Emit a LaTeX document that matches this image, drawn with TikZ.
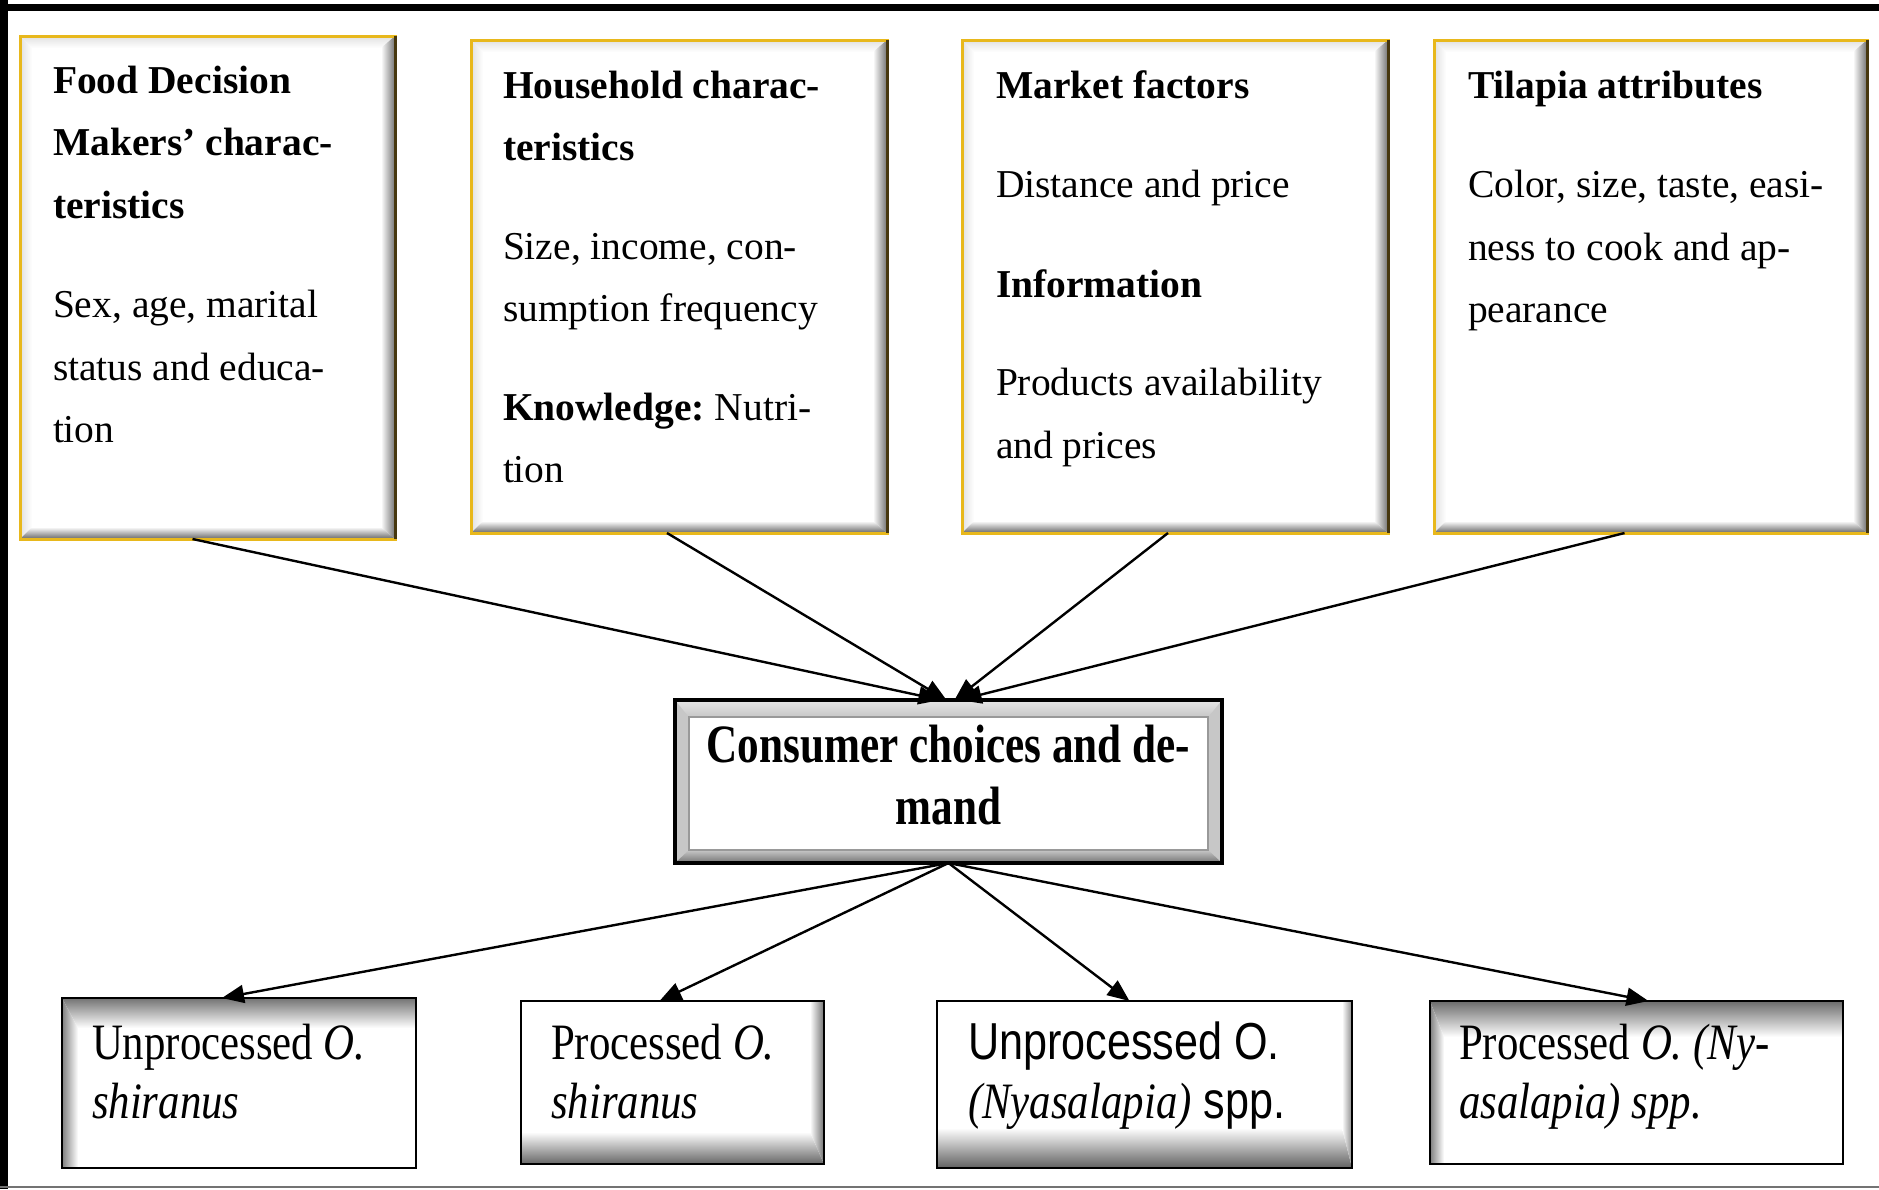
\documentclass[tikz,border=0pt]{standalone}
\usepackage{fontspec}
\setmainfont{Liberation Serif}
\newfontfamily\condserif[FakeStretch=0.84]{Liberation Serif}
\newfontfamily\condsans[FakeStretch=0.83]{Liberation Sans}
\newfontfamily\condbold[FakeStretch=0.80]{Liberation Serif}
\usetikzlibrary{arrows.meta,calc}
\definecolor{goldline}{RGB}{232,184,28}
\definecolor{darkedge}{RGB}{70,55,15}
% bevel helpers: #1 node, #2 depth, #3/#4 insets at ends, #5 colour at edge
\newcommand\bevTop[5]{\shade[top color=#5,bottom color=white] (#1.north west) -- (#1.north east) -- ($(#1.north east)+(-#4,#2)$) -- ($(#1.north west)+(#3,#2)$) -- cycle;}
\newcommand\bevBot[5]{\shade[top color=white,bottom color=#5] (#1.south west) -- (#1.south east) -- ($(#1.south east)+(-#4,-#2)$) -- ($(#1.south west)+(#3,-#2)$) -- cycle;}
\newcommand\bevLeft[5]{\shade[left color=#5,right color=white] (#1.north west) -- (#1.south west) -- ($(#1.south west)+(#2,-#4)$) -- ($(#1.north west)+(#2,#3)$) -- cycle;}
\newcommand\bevRight[5]{\shade[left color=white,right color=#5] (#1.north east) -- (#1.south east) -- ($(#1.south east)+(-#2,-#4)$) -- ($(#1.north east)+(-#2,#3)$) -- cycle;}
\newcommand\topdeco[1]{%
  \bevTop{#1}{12}{12}{14}{black!12}
  \bevLeft{#1}{12}{12}{12}{black!12}
  \bevRight{#1}{14}{12}{12}{black!55}
  \bevBot{#1}{12}{12}{14}{black!60}
  \draw[goldline,line width=3] (#1.north west) rectangle (#1.south east);
  \draw[darkedge,line width=3] (#1.north east) -- (#1.south east);}
\begin{document}
\begin{tikzpicture}[x=1pt,y=-1pt,
  box/.style={rectangle,inner sep=0,outer sep=0,fill=white},
  txt/.style={inner sep=0,outer sep=0,anchor=base west,align=left},
  topfont/.style={font=\fontsize{39.5}{62}\selectfont},
  botfont/.style={font=\fontsize{51}{59}\condserif},
  conn/.style={line width=2.4,-{Triangle[length=22,width=18]}}]
\useasboundingbox (0,0) rectangle (1879,1189);
% frame
\fill[black] (0,0) rectangle (8,1189);
\fill[black] (0,4) rectangle (1879,11);
\draw[black!55,line width=2] (0,1187) -- (1879,1187);

% top boxes
\node[box,minimum width=375,minimum height=503] (b1) at (207.5,287.5) {};
\node[box,minimum width=416,minimum height=493] (b2) at (679,286.5) {};
\node[box,minimum width=426,minimum height=493] (b3) at (1175,286.5) {};
\node[box,minimum width=433,minimum height=493] (b4) at (1650.5,286.5) {};
\topdeco{b1}\topdeco{b2}\topdeco{b3}\topdeco{b4}

\node[txt,topfont] (t1) at (53,93) {\vtop{\baselineskip=62.5pt
  \hbox{\bfseries Food Decision}\hbox{\bfseries Makers’ charac-}\hbox{\bfseries teristics}
  \vskip37pt
  \hbox{Sex, age, marital}\hbox{status and educa-}\hbox{tion}}};
\node[txt,topfont] (t2) at (503,98) {\vtop{\baselineskip=62.5pt
  \hbox{\bfseries Household charac-}\hbox{\bfseries teristics}
  \vskip36pt
  \hbox{Size, income, con-}\hbox{sumption frequency}
  \vskip36pt
  \hbox{\bfseries Knowledge:\mdseries\ Nutri-}\hbox{tion}}};
\node[txt,topfont] (t3) at (996,98) {\vtop{\baselineskip=62.5pt
  \hbox{\bfseries Market factors}
  \vskip37pt
  \hbox{Distance and price}
  \vskip37pt
  \hbox{\bfseries Information}
  \vskip36pt
  \hbox{Products availability}\hbox{and prices}}};
\node[txt,topfont] (t4) at (1468,98) {\vtop{\baselineskip=62.5pt
  \hbox{\bfseries Tilapia attributes}
  \vskip37pt
  \hbox{Color, size, taste, easi-}\hbox{ness to cook and ap-}\hbox{pearance}}};

% consumer box
\node[box,fill=black!22,minimum width=547,minimum height=163] (c) at (948.5,781.5) {};
\shade[top color=black!10,bottom color=black!22] (c.north west) -- (c.north east) -- ($(c.north east)+(-14,17)$) -- ($(c.north west)+(14,17)$) -- cycle;
\shade[top color=black!22,bottom color=black!55] (c.south west) -- (c.south east) -- ($(c.south east)+(-14,-13)$) -- ($(c.south west)+(14,-13)$) -- cycle;
\fill[white,draw=black!40,line width=1.2] ($(c.north west)+(14,17)$) rectangle ($(c.south east)+(-14,-13)$);
\draw[black,line width=4] (c.north west) rectangle (c.south east);
\node[inner sep=0,outer sep=0,anchor=base,font=\fontsize{54}{62}\condbold\bfseries] (ct) at (948.5,762) {\vtop{\baselineskip=62pt\halign{\hfil#\hfil\cr Consumer choices and de-\cr mand\cr}}};

% bottom boxes
\node[box,minimum width=354,minimum height=170] (p1) at (239,1083) {};
\node[box,minimum width=303,minimum height=163] (p2) at (672.5,1082.5) {};
\node[box,minimum width=415,minimum height=167] (p3) at (1144.5,1084.5) {};
\node[box,minimum width=413,minimum height=163] (p4) at (1636.5,1082.5) {};
\bevTop{p1}{30}{16}{0}{black!55}\bevLeft{p1}{16}{30}{0}{black!50}
\bevBot{p2}{32}{0}{14}{black!60}\bevRight{p2}{14}{0}{32}{black!55}
\bevBot{p3}{40}{0}{10}{black!62}\bevRight{p3}{10}{0}{40}{black!45}
\bevTop{p4}{36}{14}{0}{black!58}\bevLeft{p4}{14}{36}{0}{black!50}
\foreach \n in {p1,p2,p3,p4}{\draw[black,line width=2] (\n.north west) rectangle (\n.south east);}

\node[txt,botfont] (u1) at (92,1059) {\vtop{\baselineskip=59pt
  \hbox{Unprocessed \itshape O.}\hbox{\itshape shiranus}}};
\node[txt,botfont] (u2) at (551,1059) {\vtop{\baselineskip=59pt
  \hbox{Processed \itshape O.}\hbox{\itshape shiranus}}};
\node[txt,botfont] (u3) at (968,1059) {\vtop{\baselineskip=59pt
  \hbox{\fontsize{52}{59}\condsans Unprocessed O.}\hbox{\itshape (Nyasalapia)\upshape\fontsize{52}{59}\condsans\ spp.}}};
\node[txt,botfont] (u4) at (1459,1059) {\vtop{\baselineskip=59pt
  \hbox{Processed \itshape O. (Ny-}\hbox{\itshape asalapia) spp.}}};

% connectors
\draw[conn] ([xshift=-15]b1.south) -- ([xshift=-8]c.north);
\draw[conn] ([xshift=-12]b2.south) -- ([xshift=-2]c.north);
\draw[conn] ([xshift=-7]b3.south) -- ([xshift=6]c.north);
\draw[conn] ([xshift=-26]b4.south) -- ([xshift=11]c.north);
\draw[conn] (c.south) -- ([xshift=-17]p1.north);
\draw[conn] (c.south) -- ([xshift=-13]p2.north);
\draw[conn] (c.south) -- ([xshift=-15]p3.north);
\draw[conn] (c.south) -- ([xshift=12]p4.north);
\end{tikzpicture}
\end{document}
